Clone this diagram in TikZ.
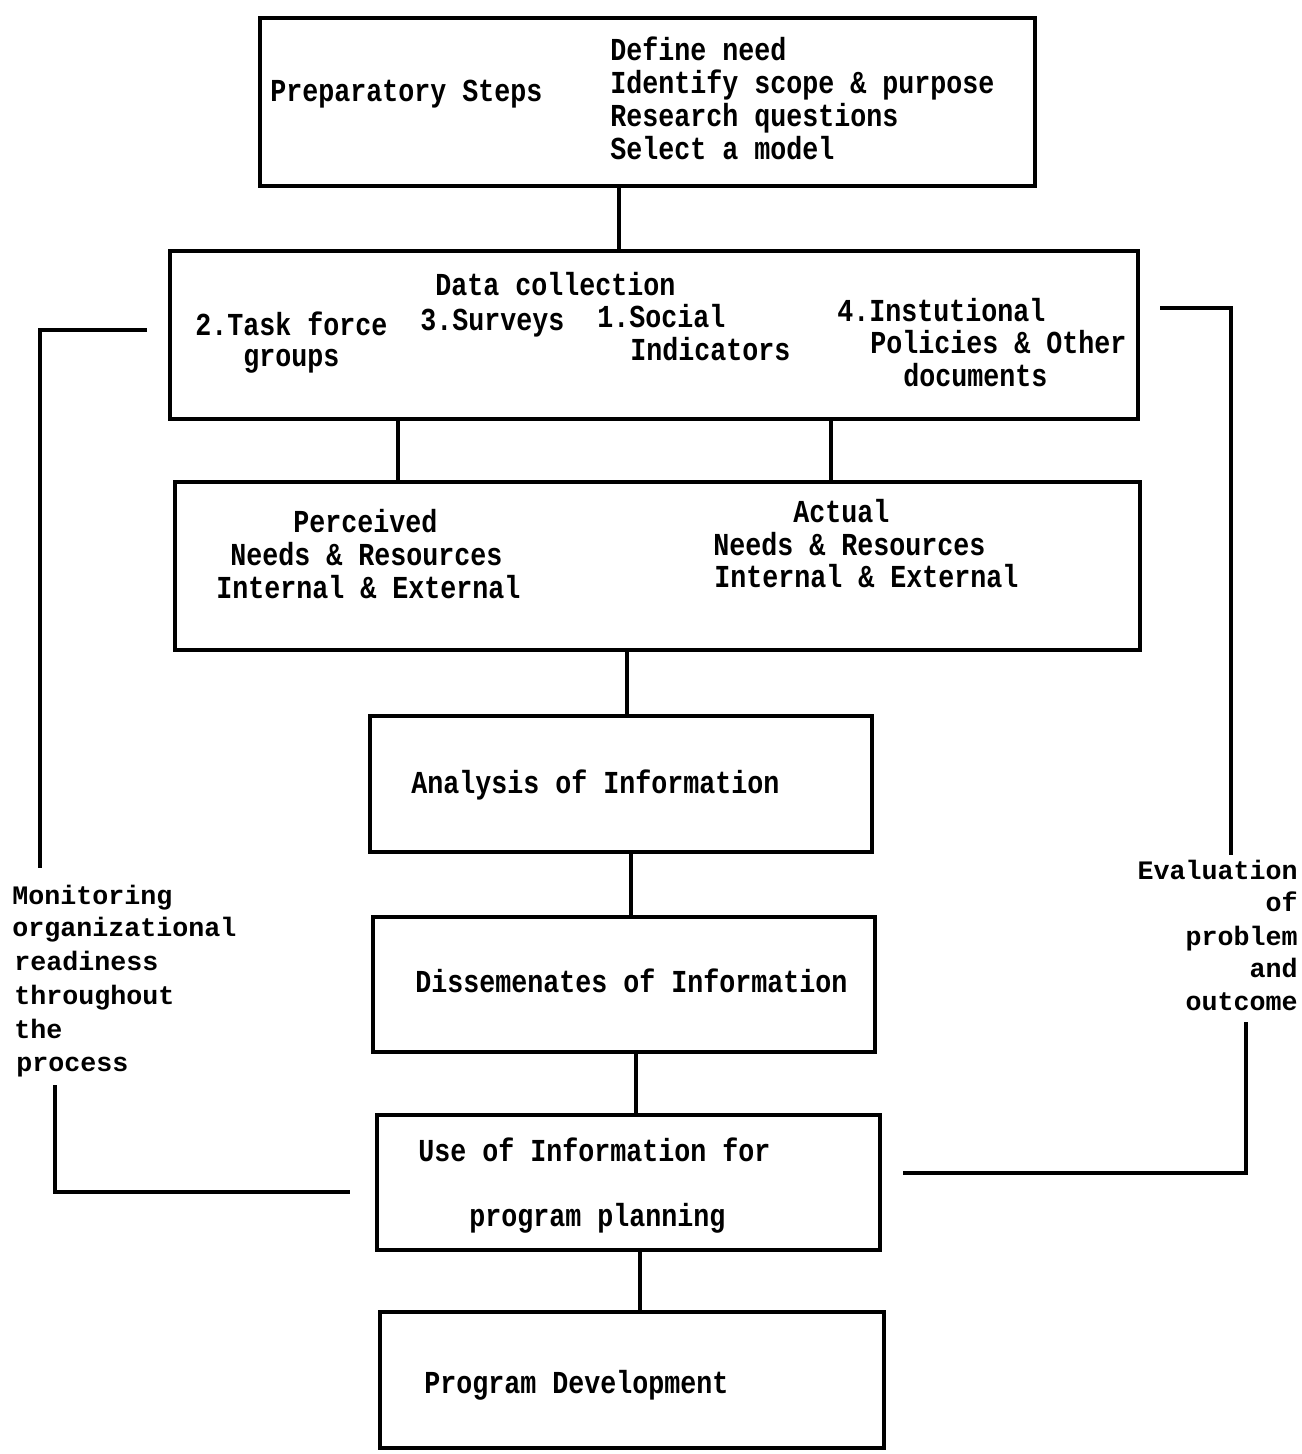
\documentclass[tikz,border=0pt]{standalone}
\usepackage{fontspec}
\usetikzlibrary{fit}
\newfontfamily\boxfont[FakeStretch=0.8333]{Liberation Mono}
\newfontfamily\sidefont{Liberation Mono}
\begin{document}
\begin{tikzpicture}[x=0.75pt,y=-0.75pt,
  box/.style={draw,line width=2.7pt,inner sep=0pt,rectangle},
  conn/.style={draw,line width=2.7pt},
  bt/.style={anchor=base west,inner sep=0pt,font=\boxfont\bfseries\fontsize{24pt}{24pt}\selectfont},
  st/.style={anchor=base west,inner sep=0pt,font=\sidefont\bfseries\fontsize{20pt}{20pt}\selectfont},
  ste/.style={st,anchor=base east}]
\useasboundingbox[fill=white] (0,0) rectangle (1302,1454);
% boxes
\node[box,fit={(260,18) (1035,186)}] (b1) {};
\node[box,fit={(170,251) (1138,419)}] (b2) {};
\node[box,fit={(175,482) (1140,650)}] (b3) {};
\node[box,fit={(370,716) (872,852)}] (b4) {};
\node[box,fit={(373,917) (875,1052)}] (b5) {};
\node[box,fit={(377,1115) (880,1250)}] (b6) {};
\node[box,fit={(380,1312) (884,1448)}] (b7) {};
% box 1 text
\node[bt] (t1a) at (270,101) {Preparatory Steps};
\node[bt] (t1b) at (610,60) {Define need};
\node[bt] (t1c) at (610,93) {Identify scope \& purpose};
\node[bt] (t1d) at (610,126) {Research questions};
\node[bt] (t1e) at (610,159) {Select a model};
% box 2 text
\node[bt] (t2a) at (435,295) {Data collection};
\node[bt] (t2b) at (195,335) {2.Task force};
\node[bt] (t2c) at (243,366) {groups};
\node[bt] (t2d) at (420,330) {3.Surveys};
\node[bt] (t2e) at (597,327) {1.Social};
\node[bt] (t2f) at (630,360) {Indicators};
\node[bt] (t2g) at (837,321) {4.Instutional};
\node[bt] (t2h) at (870,353) {Policies \& Other};
\node[bt] (t2i) at (903,386) {documents};
% box 3 text
\node[bt] (t3a) at (293,532) {Perceived};
\node[bt] (t3b) at (230,565) {Needs \& Resources};
\node[bt] (t3c) at (216,598) {Internal \& External};
\node[bt] (t3d) at (793,522) {Actual};
\node[bt] (t3e) at (713,555) {Needs \& Resources};
\node[bt] (t3f) at (714,587) {Internal \& External};
% lower boxes text
\node[bt] (t4) at (411,793) {Analysis of Information};
\node[bt] (t5) at (415,992) {Dissemenates of Information};
\node[bt] (t6a) at (418,1161) {Use of Information for};
\node[bt] (t6b) at (469,1226) {program planning};
\node[bt] (t7) at (424,1393) {Program Development};
% side labels
\node[st] (m1) at (12,904) {Monitoring};
\node[st] (m2) at (12,936) {organizational};
\node[st] (m3) at (14,970) {readiness};
\node[st] (m4) at (14,1004) {throughout};
\node[st] (m5) at (14,1038) {the};
\node[st] (m6) at (16,1071) {process};
\node[ste] (e1) at (1298,879) {Evaluation};
\node[ste] (e2) at (1298,911) {of};
\node[ste] (e3) at (1298,945) {problem};
\node[ste] (e4) at (1298,977) {and};
\node[ste] (e5) at (1298,1010) {outcome};
% vertical connectors
\draw[conn] (b1.south -| 619,0) -- (b2.north -| 619,0);
\draw[conn] (b2.south -| 398,0) -- (b3.north -| 398,0);
\draw[conn] (b2.south -| 831,0) -- (b3.north -| 831,0);
\draw[conn] (b3.south -| 627,0) -- (b4.north -| 627,0);
\draw[conn] (b4.south -| 631,0) -- (b5.north -| 631,0);
\draw[conn] (b5.south -| 636,0) -- (b6.north -| 636,0);
\draw[conn] (b6.south -| 640,0) -- (b7.north -| 640,0);
% feedback loops
\coordinate (lA) at (147,330);
\coordinate (lB) at (40,330);
\coordinate (lC) at (40,868);
\coordinate (lD) at (55,1085);
\coordinate (lE) at (55,1192);
\coordinate (lF) at (350,1192);
\draw[conn] (lA) -- (lB) -- (lC);
\draw[conn] (lD) -- (lE) -- (lF);
\coordinate (rA) at (1160,308);
\coordinate (rB) at (1231,308);
\coordinate (rC) at (1231,855);
\coordinate (rD) at (1246,1022);
\coordinate (rE) at (1246,1173);
\coordinate (rF) at (903,1173);
\draw[conn] (rA) -- (rB) -- (rC);
\draw[conn] (rD) -- (rE) -- (rF);
\end{tikzpicture}
\end{document}
